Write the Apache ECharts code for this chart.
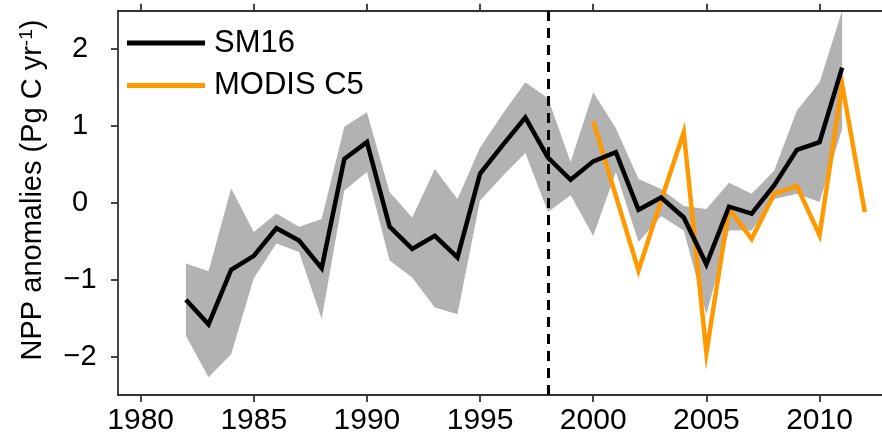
<!DOCTYPE html>
<html>
<head>
<meta charset="utf-8">
<script src="https://cdn.jsdelivr.net/npm/echarts@6/dist/echarts.min.js"></script>
<style>
  html, body { margin: 0; padding: 0; background: #fff; }
  #chart { width: 882px; height: 441px; }
</style>
</head>
<body>
<div id="chart"></div>
<script>
// SM16 ensemble NPP anomalies (Pg C / yr), 1982-2011
const smYears = [1982, 1983, 1984, 1985, 1986, 1987, 1988, 1989, 1990, 1991,
                 1992, 1993, 1994, 1995, 1996, 1997, 1998, 1999, 2000, 2001,
                 2002, 2003, 2004, 2005, 2006, 2007, 2008, 2009, 2010, 2011];
const smMean  = [-1.26, -1.58, -0.87, -0.69, -0.33, -0.49, -0.85, 0.57, 0.79, -0.31,
                 -0.60, -0.43, -0.71, 0.38, 0.75, 1.11, 0.59, 0.30, 0.54, 0.66,
                 -0.09, 0.07, -0.19, -0.80, -0.05, -0.14, 0.23, 0.69, 0.79, 1.76];
const smUpper = [-0.79, -0.89, 0.19, -0.38, -0.14, -0.31, -0.21, 0.99, 1.18, 0.14,
                 -0.19, 0.44, 0.05, 0.72, 1.16, 1.57, 1.36, 0.53, 1.44, 0.97,
                 0.31, 0.18, -0.04, -0.08, 0.26, 0.12, 0.42, 1.20, 1.57, 2.50];
const smLower = [-1.73, -2.27, -1.97, -0.98, -0.53, -0.64, -1.51, 0.16, 0.40, -0.75,
                 -0.97, -1.36, -1.45, 0.03, 0.35, 0.65, -0.12, 0.10, -0.43, 0.40,
                 -0.51, -0.17, -0.36, -1.45, -0.36, -0.36, 0.05, 0.12, 0.01, 0.96];

// MODIS Collection 5 NPP anomalies, 2000-2012
const modisYears = [2000, 2001, 2002, 2003, 2004, 2005, 2006, 2007, 2008, 2009, 2010, 2011, 2012];
const modisVals  = [1.06, 0.09, -0.88, 0.03, 0.92, -1.95, -0.08, -0.47, 0.12, 0.22, -0.42, 1.54, -0.12];

// Axis ticks and the split year
const xTicks = [1980, 1985, 1990, 1995, 2000, 2005, 2010];
const yTicks = [-2, -1, 0, 1, 2];
const splitYear = 1998;

const FONT = '"Liberation Sans", Arial, Helvetica, sans-serif';
const AXIS_COLOR = '#333';

const chart = echarts.init(document.getElementById('chart'), null, { renderer: 'canvas' });

// Shaded spread: one polygon along the upper bound and back along the lower bound
function renderBand(params, api) {
  if (params.dataIndex !== 0) return null;
  const pts = [];
  for (let i = 0; i < smYears.length; i++) pts.push(api.coord([smYears[i], smUpper[i]]));
  for (let i = smYears.length - 1; i >= 0; i--) pts.push(api.coord([smYears[i], smLower[i]]));
  return {
    type: 'polygon',
    shape: { points: pts },
    style: { fill: 'rgba(0,0,0,0.3)', stroke: null }
  };
}

const commonTick = { show: true, inside: false, length: 7, lineStyle: { color: AXIS_COLOR, width: 1.8 } };
const commonLine = { show: true, onZero: false, lineStyle: { color: AXIS_COLOR, width: 1.8 } };

chart.setOption({
  animation: false,
  backgroundColor: '#fff',
  grid: { left: 118, top: 10.7, right: 0, bottom: 46, containLabel: false },
  legend: {
    data: ['SM16', 'MODIS C5'],
    orient: 'vertical',
    left: 127,
    top: 27,
    padding: 0,
    icon: 'rect',
    itemWidth: 78,
    itemHeight: 5,
    itemGap: 10.4,
    selectedMode: false,
    textStyle: { fontFamily: FONT, fontSize: 31, color: '#000', lineHeight: 32, padding: [0, 0, 0, 4] }
  },
  xAxis: [
    {
      type: 'value', position: 'bottom', min: 1979, max: 2012.76,
      axisLine: commonLine,
      axisTick: Object.assign({ customValues: xTicks }, commonTick),
      axisLabel: {
        customValues: xTicks, margin: 11,
        fontFamily: FONT, fontSize: 30, color: '#000',
        formatter: v => String(v)
      },
      splitLine: { show: false }
    },
    {
      type: 'value', position: 'top', min: 1979, max: 2012.76,
      axisLine: commonLine,
      axisTick: Object.assign({ customValues: xTicks }, commonTick),
      axisLabel: { show: false },
      splitLine: { show: false }
    }
  ],
  yAxis: {
    type: 'value', min: -2.5, max: 2.5,
    axisLine: commonLine,
    axisTick: Object.assign({ customValues: yTicks }, commonTick),
    axisLabel: {
      customValues: yTicks, margin: 38, align: 'center',
      fontFamily: FONT, fontSize: 29, color: '#000',
      formatter: v => String(v).replace('-', '\u2212')
    },
    splitLine: { show: false }
  },
  graphic: [{
    type: 'text',
    x: 33, y: 190,
    rotation: Math.PI / 2,
    style: {
      text: '{a|NPP anomalies (Pg C yr}{s|-1}{a|)}',
      align: 'center',
      verticalAlign: 'middle',
      fill: '#000',
      rich: {
        a: { fontFamily: FONT, fontSize: 29, lineHeight: 32, fill: '#000', verticalAlign: 'middle' },
        s: { fontFamily: FONT, fontSize: 19, lineHeight: 32, fill: '#000', verticalAlign: 'top' }
      }
    }
  }],
  series: [
    {
      name: 'MODIS C5',
      type: 'line',
      data: modisYears.map((y, i) => [y, modisVals[i]]),
      showSymbol: false,
      lineStyle: { color: '#FF9900', width: 4.5, join: 'miter' },
      itemStyle: { color: '#FF9900' },
      silent: true
    },
    {
      name: 'SM16 range',
      type: 'custom',
      data: smYears.map((y, i) => [y, smLower[i], smUpper[i]]),
      encode: { x: 0, y: [1, 2] },
      renderItem: renderBand,
      silent: true
    },
    {
      name: 'SM16',
      type: 'line',
      data: smYears.map((y, i) => [y, smMean[i]]),
      showSymbol: false,
      lineStyle: { color: '#000', width: 4.5, join: 'miter' },
      itemStyle: { color: '#000' },
      silent: true,
      markLine: {
        silent: true,
        symbol: ['none', 'none'],
        label: { show: false },
        lineStyle: { color: '#000', width: 3, type: [10, 7] },
        data: [{ xAxis: splitYear }]
      }
    }
  ]
});
</script>
</body>
</html>
